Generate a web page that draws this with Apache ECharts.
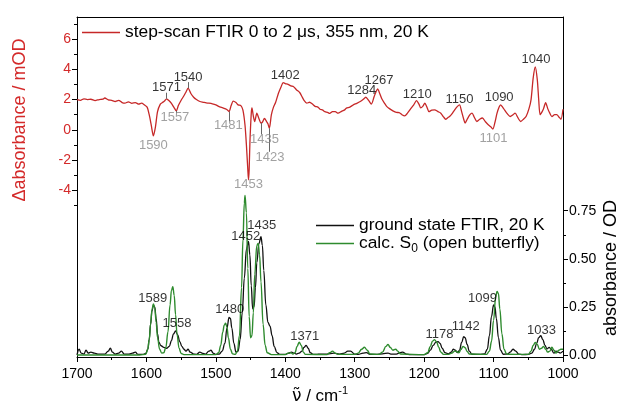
<!DOCTYPE html>
<html><head><meta charset="utf-8">
<script src="https://cdn.jsdelivr.net/npm/echarts@6/dist/echarts.min.js"></script>
<style>html,body{margin:0;padding:0;background:#fff}#c{width:622px;height:407px}</style>
</head><body><div id="c"></div>
<script>
// ---- data ----
const stepScan = [[1700,2.0],[1695,1.95],[1690,2.05],[1685,2.0],[1680,2.02],[1674,1.93],[1668,2.0],[1663,2.02],[1660,2.1],[1655,1.98],[1650,1.95],[1645,1.87],[1640,1.95],[1635,1.8],[1631,1.76],[1626,1.85],[1621,1.75],[1616,1.8],[1611,1.7],[1607,1.76],[1603,1.65],[1599,1.5],[1596,1.0],[1593,0.3],[1590,-0.4],[1587,0.2],[1584,1.2],[1580,1.7],[1577,1.8],[1574,1.9],[1571,2.05],[1567,1.9],[1564,1.75],[1560,1.45],[1557,1.25],[1554,1.6],[1550,1.95],[1546,2.25],[1543,2.5],[1540,2.75],[1536,2.4],[1532,2.15],[1528,2.0],[1523,1.87],[1518,1.82],[1514,1.78],[1510,1.76],[1505,1.72],[1500,1.65],[1496,1.55],[1490,1.45],[1486,1.38],[1483,1.3],[1481,1.2],[1478,1.6],[1475,1.9],[1471,1.8],[1468,1.65],[1464,1.6],[1461,1.3],[1458,0.3],[1456,-1.0],[1454,-2.6],[1453,-3.3],[1452,-2.6],[1451,-0.9],[1449,1.1],[1448,1.45],[1446,0.9],[1444,0.55],[1441,1.1],[1438,0.75],[1435,0.45],[1433,0.5],[1430,0.75],[1427,0.55],[1425,0.4],[1423,0.1],[1420,1.0],[1417,1.5],[1414,1.8],[1410,2.4],[1406,2.85],[1403,3.12],[1400,3.05],[1396,3.0],[1392,2.9],[1388,2.85],[1384,2.65],[1379,2.45],[1376,2.2],[1373,1.95],[1369,1.76],[1365,1.82],[1361,1.7],[1357,1.55],[1353,1.5],[1350,1.36],[1346,1.3],[1343,1.2],[1339,1.15],[1336,1.08],[1332,1.2],[1328,1.2],[1324,1.1],[1319,1.22],[1315,1.3],[1312,1.43],[1307,1.5],[1302,1.65],[1297,1.75],[1292,1.87],[1288,2.0],[1284,2.15],[1280,1.95],[1276,1.7],[1272,2.2],[1269,2.55],[1267,2.7],[1264,2.4],[1261,2.05],[1257,1.75],[1254,1.55],[1250,1.4],[1245,1.25],[1240,1.15],[1236,1.14],[1232,1.0],[1228,0.92],[1224,1.1],[1220,1.35],[1215,1.65],[1211,1.93],[1207,1.65],[1205,1.45],[1202,1.55],[1199,1.76],[1196,1.5],[1193,1.2],[1189,1.3],[1185,1.32],[1180,1.2],[1176,1.1],[1172,0.85],[1169,0.7],[1166,0.8],[1163,0.9],[1160,1.05],[1156,1.32],[1152,1.55],[1149,1.65],[1146,1.2],[1143,0.7],[1141,0.45],[1138,0.7],[1134,1.0],[1131,1.1],[1128,0.85],[1124,0.55],[1120,0.7],[1116,0.78],[1112,0.55],[1108,0.35],[1104,0.2],[1101,0.05],[1098,0.5],[1095,1.1],[1092,1.5],[1090,1.65],[1087,1.5],[1084,1.3],[1080,1.05],[1076,0.88],[1072,1.0],[1069,1.1],[1065,0.8],[1061,0.55],[1057,0.7],[1053,0.9],[1049,1.4],[1046,2.0],[1043,3.4],[1040,4.15],[1037,3.3],[1035,2.0],[1033,1.0],[1030,1.2],[1028,1.4],[1025,1.8],[1022,1.4],[1019,1.1],[1016,0.88],[1012,1.0],[1009,1.0],[1006,0.85],[1003,0.7],[1000,1.36]];

const groundState = [[1700,0.0],[1697,0.03],[1694,0.01],[1690,0.005],[1687,0.025],[1684,0.01],[1680,0.015],[1675,0.01],[1670,0.005],[1665,0.005],[1660,0.005],[1655,0.02],[1652,0.035],[1649,0.015],[1645,0.005],[1640,0.01],[1636,0.02],[1632,0.005],[1625,0.005],[1620,0.01],[1616,0.015],[1612,0.003],[1605,0.003],[1601,0.008],[1598,0.03],[1596,0.08],[1594,0.16],[1592,0.23],[1590,0.258],[1588,0.25],[1586,0.19],[1584,0.11],[1582,0.065],[1579,0.048],[1575,0.04],[1571,0.035],[1567,0.045],[1564,0.075],[1561,0.11],[1558,0.125],[1555,0.105],[1552,0.07],[1549,0.045],[1546,0.03],[1543,0.02],[1540,0.03],[1537,0.015],[1532,0.005],[1528,0.003],[1523,0.015],[1520,0.01],[1515,0.005],[1510,0.02],[1507,0.025],[1504,0.01],[1500,0.003],[1495,0.005],[1491,0.02],[1487,0.06],[1484,0.14],[1481,0.195],[1479,0.19],[1477,0.14],[1474,0.06],[1471,0.015],[1468,0.02],[1465,0.08],[1462,0.22],[1459,0.4],[1456,0.55],[1453,0.59],[1451,0.52],[1449,0.36],[1447,0.24],[1445,0.25],[1443,0.35],[1441,0.48],[1438,0.58],[1435,0.615],[1433,0.57],[1431,0.44],[1428,0.26],[1425,0.17],[1422,0.15],[1419,0.1],[1416,0.045],[1412,0.012],[1408,0.003],[1400,0.003],[1395,0.01],[1391,0.015],[1388,0.01],[1384,0.005],[1380,0.01],[1376,0.02],[1373,0.04],[1370,0.05],[1367,0.035],[1364,0.012],[1360,0.003],[1355,0.003],[1350,0.005],[1340,0.005],[1330,0.01],[1322,0.005],[1315,0.01],[1310,0.02],[1306,0.02],[1300,0.005],[1295,0.003],[1288,0.01],[1283,0.012],[1278,0.003],[1270,0.003],[1260,0.006],[1252,0.01],[1248,0.005],[1240,0.005],[1235,0.012],[1231,0.015],[1226,0.005],[1220,0.002],[1200,0.002],[1195,0.008],[1191,0.025],[1187,0.05],[1183,0.067],[1180,0.07],[1177,0.06],[1174,0.035],[1170,0.012],[1165,0.006],[1161,0.015],[1158,0.03],[1155,0.025],[1152,0.012],[1149,0.025],[1146,0.065],[1143,0.095],[1141,0.09],[1138,0.055],[1135,0.02],[1131,0.004],[1120,0.003],[1113,0.006],[1109,0.03],[1106,0.1],[1103,0.2],[1100,0.26],[1098,0.25],[1096,0.19],[1093,0.09],[1090,0.025],[1086,0.004],[1080,0.005],[1076,0.015],[1072,0.03],[1068,0.02],[1064,0.005],[1058,0.002],[1050,0.003],[1045,0.01],[1041,0.03],[1038,0.06],[1035,0.09],[1032,0.1],[1029,0.08],[1026,0.05],[1023,0.032],[1020,0.04],[1017,0.03],[1013,0.01],[1010,0.02],[1007,0.015],[1004,0.01],[1000,0.02]];

const calcS0 = [[1700,0.0],[1610,0.0],[1601,0.004],[1598,0.03],[1596,0.08],[1594,0.16],[1592,0.235],[1590,0.265],[1588,0.245],[1586,0.17],[1584,0.09],[1581,0.03],[1578,0.01],[1575,0.012],[1572,0.04],[1569,0.12],[1566,0.26],[1564,0.335],[1562,0.355],[1560,0.31],[1558,0.21],[1556,0.11],[1553,0.035],[1550,0.008],[1546,0.002],[1500,0.002],[1496,0.012],[1493,0.05],[1490,0.12],[1488,0.155],[1486,0.165],[1484,0.145],[1482,0.09],[1479,0.03],[1476,0.006],[1472,0.003],[1469,0.02],[1466,0.1],[1463,0.35],[1461,0.6],[1459,0.79],[1458,0.83],[1456,0.74],[1454,0.45],[1452,0.2],[1450,0.09],[1448,0.1],[1446,0.22],[1444,0.42],[1441,0.57],[1439,0.58],[1437,0.52],[1435,0.38],[1432,0.16],[1429,0.05],[1426,0.012],[1420,0.002],[1400,0.002],[1396,0.01],[1392,0.012],[1389,0.005],[1386,0.012],[1383,0.045],[1380,0.066],[1377,0.05],[1374,0.015],[1371,0.003],[1340,0.002],[1336,0.012],[1332,0.02],[1328,0.01],[1324,0.003],[1300,0.003],[1295,0.01],[1290,0.03],[1286,0.04],[1282,0.025],[1278,0.005],[1265,0.003],[1260,0.015],[1255,0.045],[1252,0.055],[1249,0.04],[1245,0.025],[1241,0.03],[1238,0.02],[1234,0.005],[1200,0.002],[1195,0.012],[1191,0.045],[1188,0.072],[1185,0.08],[1182,0.068],[1179,0.04],[1176,0.015],[1172,0.003],[1165,0.003],[1160,0.01],[1156,0.02],[1153,0.018],[1150,0.012],[1147,0.028],[1144,0.045],[1141,0.038],[1138,0.018],[1135,0.005],[1110,0.003],[1106,0.02],[1103,0.07],[1100,0.18],[1097,0.3],[1095,0.33],[1093,0.32],[1091,0.24],[1088,0.11],[1085,0.03],[1081,0.004],[1050,0.003],[1046,0.02],[1043,0.05],[1040,0.065],[1037,0.055],[1034,0.03],[1031,0.035],[1028,0.045],[1025,0.03],[1022,0.015],[1019,0.02],[1016,0.04],[1013,0.025],[1010,0.01],[1006,0.025],[1003,0.03],[1000,0.03]];

// peak annotations: [label, wavenumber, value]
const topLabelsBlack = [["1571",1571,2.79],["1540",1540,3.47],["1402",1400,3.56],["1284",1290,2.59],["1267",1265,3.23],["1210",1210,2.31],["1150",1149,2.04],["1090",1092,2.13],["1040",1039,4.68]];
const topLabelsGray = [["1590",1590,-1.05],["1557",1559,0.84],["1481",1482,0.26],["1435",1430,-0.66],["1423",1422,-1.8],["1453",1453,-3.63],["1101",1100,-0.59]];
const bottomLabels = [["1589",1591,0.295],["1558",1556,0.165],["1480",1480,0.237],["1452",1457,0.615],["1435",1434,0.676],["1371",1372,0.095],["1178",1178,0.109],["1142",1140,0.147],["1099",1116,0.295],["1033",1031,0.13]];
// leader lines: [wavenumber, from, to] in mOD
const leaders = [[1571,2.05,2.45],[1540,2.75,3.15],[1557,1.25,1.1],[1481,1.2,0.55],[1435,0.45,-0.3],[1423,0.1,-1.45]];

const leftTicks = [-4,-2,0,2,4,6];
const leftMinor = [-5,-3,-1,1,3,5,7];
const rightTicks = [0,0.25,0.5,0.75];
const rightMinor = [0.125,0.375,0.625];

const legendTop = "step-scan FTIR 0 to 2 \u03bcs, 355 nm, 20 K";
const legendGS = "ground state FTIR, 20 K";
const legendCalc = "calc. S0 (open butterfly)";

// ---- chart ----
const RED = '#c62828', REDTXT = '#d42a2a', GREEN = '#2e8b2e', GRAY = '#8a8a8a';
const FONT = 'Liberation Sans, Arial, sans-serif';
const chart = echarts.init(document.getElementById('c'), null, {renderer:'canvas'});

function labelSeries(arr, yIdx, color) {
  return {
    type:'scatter', yAxisIndex:yIdx, symbolSize:1, silent:true, z:10,
    itemStyle:{color:'rgba(0,0,0,0)'},
    label:{show:true, position:'inside', formatter:'{b}', color:color, fontSize:13, fontFamily:FONT},
    data: arr.map(d => ({name:d[0], value:[d[1], d[2]]}))
  };
}

const yMinL = -15, yMaxL = 7.45, yMinR = -0.0104, yMaxR = 1.757;
const baseY = {type:'value', splitLine:{show:false}, axisLine:{show:true, onZero:false, lineStyle:{color:'#000', width:1}}};

chart.setOption({
  animation:false,
  backgroundColor:'#fff',
  grid:{left:77, right:59, top:17, bottom:50, outerBoundsMode:'none', containLabel:false},
  legend:[
    {data:[legendTop], left:82, top:24, padding:0, icon:'rect', itemWidth:38, itemHeight:1.5, itemGap:6,
     textStyle:{fontSize:17.4, fontFamily:FONT, color:'#000'}},
    {data:[legendGS, legendCalc], orient:'vertical', left:316, top:217, padding:0, icon:'rect', itemWidth:38, itemHeight:1.5, itemGap:1,
     formatter: n => n === legendCalc ? 'calc. S{sub|0} (open butterfly)' : n,
     textStyle:{fontSize:17.4, fontFamily:FONT, color:'#000', rich:{sub:{fontSize:12, fontFamily:FONT, padding:[10,0,0,0]}}}}
  ],
  xAxis:[
    {type:'value', min:1000, max:1700, inverse:true, interval:100, position:'bottom',
     splitLine:{show:false},
     axisLine:{show:true, onZero:false, lineStyle:{color:'#000'}},
     axisTick:{show:true, inside:false, length:5, lineStyle:{color:'#000'}},
     minorTick:{show:true, splitNumber:2, length:3, lineStyle:{color:'#000'}},
     axisLabel:{fontSize:14, fontFamily:FONT, color:'#000', margin:10, formatter: v => String(v)},
     name:'{nu|\u03bd\u0303} / cm{sup|-1}', nameLocation:'middle', nameGap:28,
     nameTextStyle:{fontSize:17, fontFamily:FONT, color:'#000',
       rich:{nu:{fontSize:17, fontFamily:'DejaVu Sans'}, sup:{fontSize:11, fontFamily:FONT, padding:[0,0,10,0]}}}},
    {type:'value', min:1000, max:1700, inverse:true, position:'top',
     splitLine:{show:false}, axisLine:{show:true, onZero:false, lineStyle:{color:'#000'}}, axisTick:{show:false}, axisLabel:{show:false}}
  ],
  yAxis:[
    Object.assign({}, baseY, {min:yMinL, max:yMaxL, position:'left',
      axisTick:{show:true, length:5, customValues:leftTicks, lineStyle:{color:'#000'}},
      axisLabel:{customValues:leftTicks, fontSize:14, fontFamily:FONT, color:REDTXT, margin:6}}),
    Object.assign({}, baseY, {min:yMinR, max:yMaxR, position:'right',
      axisTick:{show:true, length:5, customValues:rightTicks, lineStyle:{color:'#000'}},
      axisLabel:{customValues:rightTicks, fontSize:14, fontFamily:FONT, color:'#000', margin:6, formatter:v=>v.toFixed(2)}}),
    {type:'value', min:yMinL, max:yMaxL, position:'left', splitLine:{show:false}, axisLine:{show:false},
      axisTick:{show:true, length:3, customValues:leftMinor, lineStyle:{color:'#000'}}, axisLabel:{show:false}},
    {type:'value', min:yMinR, max:yMaxR, position:'right', splitLine:{show:false}, axisLine:{show:false},
      axisTick:{show:true, length:3, customValues:rightMinor, lineStyle:{color:'#000'}}, axisLabel:{show:false}}
  ],
  graphic:[
    {type:'text', x:20, y:120, rotation:Math.PI/2,
     style:{text:'\u0394absorbance / mOD', fill:REDTXT, font:'18px '+FONT, textAlign:'center', textVerticalAlign:'middle'}},
    {type:'text', x:611, y:268, rotation:Math.PI/2,
     style:{text:'absorbance / OD', fill:'#000', font:'18px '+FONT, textAlign:'center', textVerticalAlign:'middle'}}
  ],
  series:[
    {name:legendTop, type:'line', yAxisIndex:0, data:stepScan, symbol:'none', smooth:0.25,
     lineStyle:{color:RED, width:1.3}, itemStyle:{color:RED}, z:3,
     markLine:{silent:true, symbol:'none', label:{show:false}, lineStyle:{color:'#666', width:1, type:'solid'},
       data: leaders.map(l => [{coord:[l[0], l[1]]}, {coord:[l[0], l[2]]}])}},
    {name:legendGS, type:'line', yAxisIndex:1, data:groundState, symbol:'none', smooth:0.4, smoothMonotone:'x',
     lineStyle:{color:'#111', width:1.3}, itemStyle:{color:'#111'}, z:3},
    {name:legendCalc, type:'line', yAxisIndex:1, data:calcS0, symbol:'none', smooth:0.4, smoothMonotone:'x',
     lineStyle:{color:GREEN, width:1.4}, itemStyle:{color:GREEN}, z:4},
    labelSeries(topLabelsBlack, 0, '#000'),
    labelSeries(topLabelsGray, 0, GRAY),
    labelSeries(bottomLabels, 1, '#000')
  ]
});
</script>
</body></html>
